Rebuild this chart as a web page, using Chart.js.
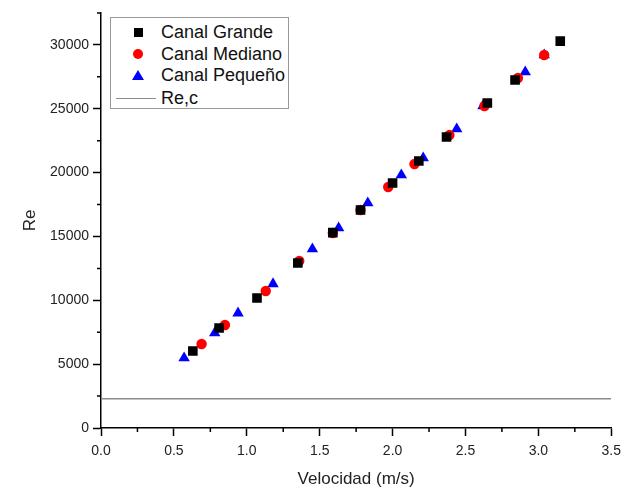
<!DOCTYPE html>
<html>
<head>
<meta charset="utf-8">
<script src="https://cdn.jsdelivr.net/npm/chart.js@4.4.0/dist/chart.umd.min.js"></script>
<style>
    body { margin: 0; background: #fff; }
    #wrap { position: relative; width: 628px; height: 489px; }
    #legend {
        position: absolute; left: 110px; top: 17px; width: 177px; height: 90px;
        border: 1px solid #999; background: #fff;
        font-family: "Liberation Sans", Arial, sans-serif; font-size: 18px; color: #111;
    }
    .row { position: absolute; left: 0; height: 22px; line-height: 22px; }
    .row span.txt { position: absolute; left: 50px; white-space: nowrap; }
    .sym { position: absolute; }
</style>
</head>
<body>
<div id="wrap">
    <canvas id="chart" width="628" height="489"></canvas>
    <div id="legend"></div>
</div>
<script>
// Data
const grandeVel = [0.63, 0.81, 1.07, 1.35, 1.59, 1.78, 2.00, 2.18, 2.37, 2.65, 2.84, 3.15];
const grandeRe  = [6030, 7830, 10180, 12920, 15300, 17070, 19190, 20910, 22790, 25450, 27250, 30300];

const medianoVel = [0.69, 0.85, 1.13, 1.36, 1.59, 1.78, 1.97, 2.15, 2.39, 2.63, 2.86, 3.04];
const medianoRe  = [6580, 8070, 10730, 13080, 15270, 17070, 18870, 20670, 22940, 25220, 27410, 29210];

const pequenoVel = [0.57, 0.78, 0.94, 1.18, 1.45, 1.63, 1.83, 2.06, 2.21, 2.44, 2.62, 2.91, 3.04];
const pequenoRe  = [5480, 7440, 9000, 11280, 14020, 15660, 17620, 19810, 21140, 23410, 25220, 27880, 29210];

const reCritico = 2300;
const xRange = [0, 3.5];
const yRange = [0, 32500];
const xTicks = [0, 0.5, 1.0, 1.5, 2.0, 2.5, 3.0, 3.5];
const yTicks = [0, 5000, 10000, 15000, 20000, 25000, 30000];

function toPoints(xs, ys) {
    return xs.map((x, i) => ({ x: x, y: ys[i] }));
}

const FONT = '"Liberation Sans", Arial, sans-serif';

// Small outward minor ticks halfway between the major ones
const minorTicks = {
    id: 'minorTicks',
    afterDraw(chart) {
        const ctx = chart.ctx;
        const x = chart.scales.x, y = chart.scales.y;
        ctx.save();
        ctx.strokeStyle = '#000';
        ctx.lineWidth = 1.5;
        ctx.beginPath();
        for (let v = 0.25; v < 3.5; v += 0.5) {
            const px = x.getPixelForValue(v);
            ctx.moveTo(px, y.bottom);
            ctx.lineTo(px, y.bottom + 4);
        }
        for (let v = 2500; v <= 32500; v += 5000) {
            const py = y.getPixelForValue(v);
            ctx.moveTo(x.left, py);
            ctx.lineTo(x.left - 4, py);
        }
        ctx.stroke();
        ctx.restore();
    }
};

const datasets = [
    {
        label: 'Canal Grande',
        data: toPoints(grandeVel, grandeRe),
        pointStyle: 'rect', pointRadius: 6.8,
        backgroundColor: '#000', borderColor: '#000', borderWidth: 0,
        showLine: false
    },
    {
        label: 'Canal Mediano',
        data: toPoints(medianoVel, medianoRe),
        pointStyle: 'circle', pointRadius: 5.2,
        backgroundColor: '#ff0000', borderColor: '#ff0000', borderWidth: 0,
        showLine: false
    },
    {
        label: 'Canal Pequeño',
        data: toPoints(pequenoVel, pequenoRe),
        pointStyle: 'triangle', pointRadius: 6.6,
        backgroundColor: '#0000ff', borderColor: '#0000ff', borderWidth: 0,
        showLine: false
    },
    {
        label: 'Re,c',
        data: [{ x: xRange[0], y: reCritico }, { x: xRange[1], y: reCritico }],
        showLine: true, pointRadius: 0,
        borderColor: '#8c8c8c', borderWidth: 1.5
    }
];

new Chart(document.getElementById('chart'), {
    type: 'scatter',
    data: { datasets: datasets },
    options: {
        responsive: false,
        animation: false,
        layout: { padding: { top: 13, right: 15, left: 0, bottom: 0 } },
        plugins: { legend: { display: false }, tooltip: { enabled: false } },
        scales: {
            x: {
                min: xRange[0], max: xRange[1],
                border: { color: '#000', width: 1.5 },
                grid: { drawOnChartArea: false, drawTicks: true, tickLength: 8, tickColor: '#000', tickWidth: 1.5 },
                ticks: {
                    padding: 7, color: '#222',
                    font: { family: FONT, size: 14 },
                    callback: v => v.toFixed(1)
                },
                afterBuildTicks: s => { s.ticks = xTicks.map(v => ({ value: v })); },
                title: { display: true, text: 'Velocidad (m/s)', color: '#222', font: { family: FONT, size: 17 }, padding: { top: 6, bottom: -1 } },
                afterFit: s => { s.height = 61; }
            },
            y: {
                min: yRange[0], max: yRange[1],
                border: { color: '#000', width: 1.5 },
                grid: { drawOnChartArea: false, drawTicks: true, tickLength: 8, tickColor: '#000', tickWidth: 1.5 },
                ticks: {
                    padding: 4, color: '#222',
                    font: { family: FONT, size: 14 },
                    callback: v => String(v)
                },
                afterBuildTicks: s => { s.ticks = yTicks.map(v => ({ value: v })); },
                title: { display: true, text: 'Re', color: '#222', font: { family: FONT, size: 17 }, padding: { top: 20, bottom: 8 } },
                afterFit: s => { s.width = 101; }
            }
        }
    },
    plugins: [minorTicks]
});

// Legend box, built from the datasets
const legend = document.getElementById('legend');
const rowTops = [3, 25, 46, 69];
datasets.forEach((ds, i) => {
    const row = document.createElement('div');
    row.className = 'row';
    row.style.top = rowTops[i] + 'px';
    row.style.width = '177px';
    const sym = document.createElement('div');
    sym.className = 'sym';
    if (ds.pointStyle === 'rect') {
        Object.assign(sym.style, { left: '23px', top: '7px', width: '9px', height: '9px', background: ds.backgroundColor });
    } else if (ds.pointStyle === 'circle') {
        Object.assign(sym.style, { left: '22px', top: '6px', width: '10px', height: '10px', borderRadius: '50%', background: ds.backgroundColor });
    } else if (ds.pointStyle === 'triangle') {
        Object.assign(sym.style, { left: '21px', top: '6px', width: 0, height: 0,
            borderLeft: '6px solid transparent', borderRight: '6px solid transparent',
            borderBottom: '10px solid ' + ds.backgroundColor });
    } else {
        Object.assign(sym.style, { left: '5px', top: '11px', width: '40px', height: '0', borderTop: '1.5px solid ' + ds.borderColor });
    }
    row.appendChild(sym);
    const txt = document.createElement('span');
    txt.className = 'txt';
    txt.textContent = ds.label;
    row.appendChild(txt);
    legend.appendChild(row);
});
</script>
</body>
</html>
